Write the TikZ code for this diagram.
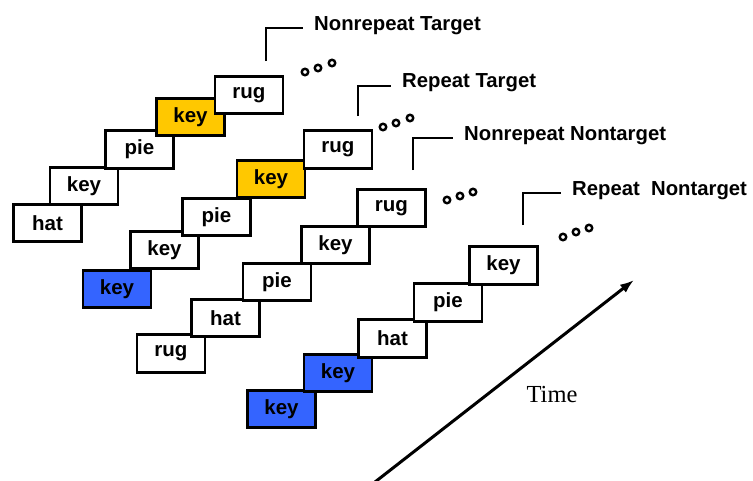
\documentclass[tikz,border=0pt]{standalone}
\usepackage{fontspec}
\setmainfont{Liberation Serif}
\newfontfamily\lsans{Liberation Sans}
\usetikzlibrary{arrows.meta}
\definecolor{wyellow}{RGB}{255,200,0}
\definecolor{wblue}{RGB}{52,100,255}
\begin{document}
\begin{tikzpicture}[x=1pt,y=-1pt,
  wbox/.style={draw=black, line width=2.8pt, fill=white, minimum width=68pt, minimum height=37.5pt, inner sep=0pt, font=\lsans\bfseries\fontsize{20.5}{23}\selectfont},
  ybox/.style={wbox, fill=wyellow},
  bbox/.style={wbox, fill=wblue},
  lab/.style={anchor=west, inner sep=0pt, font=\lsans\bfseries\fontsize{20.3}{23}\selectfont},
  bracket/.style={draw=black, line width=1.3pt, shorten >=11pt},
  dotc/.style={circle, draw=black, line width=2.4pt, minimum size=6.5pt, inner sep=0pt},
  timearrow/.style={draw=black, line width=3pt, -{Latex[length=14pt,width=10pt]}}
]
\useasboundingbox (0,0) rectangle (753,480);

% Stack 1: Nonrepeat Target
\node[wbox] (a1) at (47.5,223) {hat};
\node[wbox] (a2) at (84,186) {key};
\node[wbox] (a3) at (139.5,149.5) {pie};
\node[ybox] (a4) at (190.5,117) {key};
\node[wbox] (a5) at (249,95) {rug};

% Stack 2: Repeat Target
\node[bbox] (b1) at (117,289) {key};
\node[wbox] (b2) at (164.5,250) {key};
\node[wbox] (b3) at (216.5,217) {pie};
\node[ybox] (b4) at (271,179) {key};
\node[wbox] (b5) at (338,149.5) {rug};

% Stack 3: Nonrepeat Nontarget
\node[wbox] (c1) at (171,353.5) {rug};
\node[wbox] (c2) at (225.5,318) {hat};
\node[wbox] (c3) at (277,282) {pie};
\node[wbox] (c4) at (335.5,245) {key};
\node[wbox] (c5) at (391.5,208) {rug};

% Stack 4: Repeat Nontarget
\node[bbox] (d1) at (281.5,409) {key};
\node[bbox] (d2) at (338,373) {key};
\node[wbox] (d3) at (392.5,338.5) {hat};
\node[wbox] (d4) at (448,302.5) {pie};
\node[wbox] (d5) at (503.5,265.5) {key};

% dots
\node[dotc] (p11) at (305,72) {};
\node[dotc] (p12) at (318,68) {};
\node[dotc] (p13) at (332,63) {};
\node[dotc] (p21) at (383,127) {};
\node[dotc] (p22) at (396,123) {};
\node[dotc] (p23) at (410,118) {};
\node[dotc] (p31) at (447,200) {};
\node[dotc] (p32) at (460,196) {};
\node[dotc] (p33) at (473,192) {};
\node[dotc] (p41) at (563,237) {};
\node[dotc] (p42) at (576,232) {};
\node[dotc] (p43) at (589,228) {};

% labels
\node[lab] (ntl) at (314,26) {Nonrepeat Target};
\node[lab] (rtl) at (402,83) {Repeat Target};
\node[lab] (nnl) at (464,136) {Nonrepeat Nontarget};
\node[lab] (rnl) at (572,191) {Repeat\ \ Nontarget};

\coordinate (ntb) at (266,61);
\coordinate (rtb) at (358,116);
\coordinate (nnb) at (413,170);
\coordinate (rnb) at (523,225);
\draw[bracket] (ntb) |- ([yshift=-2pt]ntl.west);
\draw[bracket] (rtb) |- ([yshift=-3pt]rtl.west);
\draw[bracket] (nnb) |- ([yshift=-2pt]nnl.west);
\draw[bracket] (rnb) |- ([yshift=-2pt]rnl.west);

% time arrow
\coordinate (tail) at (375,482);
\coordinate (tip) at (634,280);
\draw[timearrow] (tail) -- (tip);
\node[font=\fontsize{24.5}{28}\selectfont] (time) at (552,395) {Time};
\end{tikzpicture}
\end{document}
